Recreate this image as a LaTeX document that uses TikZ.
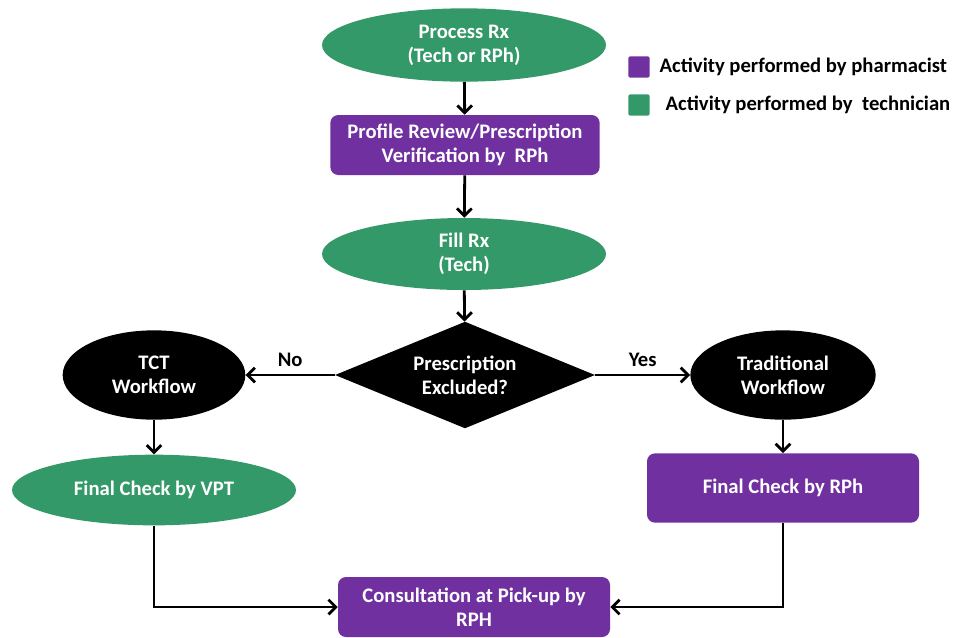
\documentclass[tikz,border=0pt]{standalone}
\usepackage{fontspec}
\setmainfont{Carlito}
\usetikzlibrary{shapes.geometric, arrows.meta, positioning}

\definecolor{techgreen}{RGB}{52,153,104}
\definecolor{rphpurple}{RGB}{112,48,160}

\begin{document}
\begin{tikzpicture}[
    x=0.75pt, y=-0.75pt,
    font=\bfseries\fontsize{15.5}{18}\selectfont,
    tech/.style={ellipse, fill=techgreen, text=white, align=center, inner sep=0pt},
    rph/.style={rectangle, rounded corners=6pt, fill=rphpurple, text=white, align=center, inner sep=0pt},
    flow/.style={ellipse, fill=black, text=white, align=center, inner sep=0pt},
    decide/.style={diamond, fill=black, text=white, align=center, inner sep=0pt},
    swatch/.style={rectangle, rounded corners=1.5pt, minimum size=16pt, inner sep=0pt},
    link/.style={line width=2.1pt, -{Straight Barb[length=5.5pt, width=11pt, line width=2.1pt]}}
]
\useasboundingbox (0,0) rectangle (969,637);

% Legend
\node[swatch, fill=rphpurple] (keyrph) at (639,67) {};
\node[anchor=west] (keyrphtxt) at (655,67) {Activity performed by pharmacist};
\node[swatch, fill=techgreen] (keytech) at (639,105) {};
\node[anchor=west] (keytechtxt) at (661,105) {Activity performed by\ \ technician};

% Main column
\node[tech, minimum width=213pt, minimum height=55pt] (process) at (464,45) {Process Rx\\(Tech or RPh)};
\node[rph, minimum width=202pt, minimum height=45pt] (profile) at (465,145) {Profile Review/Prescription\\Verification by\ \ RPh};
\node[tech, minimum width=213pt, minimum height=54pt] (fill) at (464,254) {Fill Rx\\(Tech)};
\node[decide, minimum width=195pt, minimum height=80pt, aspect=2.45] (excluded) at (465,375) {Prescription\\Excluded?};

% Branches
\node[flow, minimum width=137pt, minimum height=67pt] (tct) at (154,375) {TCT\\Workflow};
\node[flow, minimum width=139pt, minimum height=67pt] (trad) at (783,375) {Traditional\\Workflow};
\node[tech, minimum width=213pt, minimum height=53pt] (vpt) at (154,490) {Final Check by VPT};
\node[rph, minimum width=204pt, minimum height=52pt] (finalrph) at (783,488) {Final Check by RPh};

% Consultation
\node[rph, minimum width=204pt, minimum height=45pt] (consult) at (474,607) {Consultation at Pick-up by\\RPH};

% Connectors
\draw[link] (process) -- (profile);
\draw[link] (profile) -- (fill);
\draw[link] (fill) -- (excluded);
\draw[link] (excluded.west) -- (tct.east) node[midway, above=2pt] (nolbl) {No};
\draw[link] (excluded.east) -- (trad.west) node[midway, above=2pt] (yeslbl) {Yes};
\draw[link] (tct) -- (vpt);
\draw[link] (trad) -- (finalrph);
\draw[link] (vpt.south) |- (consult.west);
\draw[link] (finalrph.south) |- (consult.east);

\end{tikzpicture}
\end{document}
